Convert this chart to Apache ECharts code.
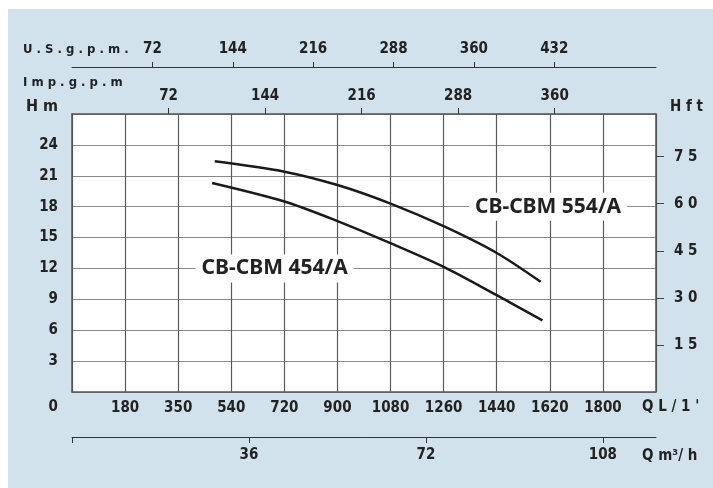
<!DOCTYPE html>
<html>
<head>
<meta charset="utf-8">
<script src="https://cdn.jsdelivr.net/npm/echarts@6/dist/echarts.min.js"></script>
<style>
body{margin:0;background:#fff;}
#panel{position:absolute;left:8px;top:9px;right:0;bottom:0;background:#d1e2ec;}
#chart1{position:absolute;left:0;top:0;width:713px;height:488px;}
</style>
</head>
<body>
<div id="panel"></div>
<div id="chart1"></div>
<script>
// pump curves, Q in l/min, H in m
var q554 = [484, 720, 900, 1080, 1260, 1440, 1589];
var h554 = [22.4, 21.4, 20.1, 18.3, 16.1, 13.5, 10.7];
var q454 = [475, 720, 900, 1080, 1260, 1440, 1595];
var h454 = [20.3, 18.5, 16.6, 14.45, 12.15, 9.4, 6.95];
var curveNames = ['CB-CBM 554/A', 'CB-CBM 454/A'];
// where the curve names sit [Q, H]
var labelAt554 = [1614, 18];
var labelAt454 = [687, 12];

// tick labels
var qTicks = ['0', '180', '350', '540', '720', '900', '1080', '1260', '1440', '1620', '1800'];
var usTicks = [72, 144, 216, 288, 360, 432];
var impTicks = [72, 144, 216, 288, 360];
var m3Ticks = [0, 36, 72, 108];
var m3Labels = [36, 72, 108];
var ftTicks = [15, 30, 45, 60, 75];

var qMax = 1980, hMax = 27;
var US_GAL = 3.785, IMP_GAL = 4.546, M3H = 16.667, FT = 3.2808;

var numFont = "'Liberation Sans Narrow', 'DejaVu Sans Condensed', sans-serif";
var nameFont = "'DejaVu Sans Condensed', 'Liberation Sans Narrow', sans-serif";
var curveFont = "'Noto Sans', 'Open Sans', sans-serif";

function pairs(q, h){
	var out = [];
	for (var i = 0; i < q.length; i++) out.push([q[i], h[i]]);
	return out;
}
function spaced(v){
	return String(v).split('').join(' ');
}

var myChart = echarts.init(document.getElementById('chart1'));

var lblStyle = {color: '#222', fontFamily: numFont, fontSize: 15, fontWeight: 'bold'};

function curveLabel(name, at){
	return {
		symbol: 'rect', symbolSize: 1,
		itemStyle: {color: 'rgba(0,0,0,0)'},
		label: {show: true, position: 'inside', formatter: name, color: '#222',
			fontFamily: curveFont, fontWeight: 'bold', fontSize: 21,
			backgroundColor: '#fff', padding: [4, 6, 3, 6]},
		data: [{coord: at}]
	};
}

var option = {
	animation: false,
	grid: {
		left: 72, right: 57, top: 114, bottom: 96,
		outerBoundsMode: 'none',
		show: true, backgroundColor: '#fff', borderWidth: 0
	},
	xAxis: [
		{ // l/min
			type: 'value', position: 'bottom', min: 0, max: qMax, interval: 180,
			axisLine: {show: true, onZero: false, lineStyle: {color: '#555', width: 1.5}},
			axisTick: {show: false},
			splitLine: {show: true, lineStyle: {color: '#5a5a5a', width: 1.2}},
			axisLabel: Object.assign({
				margin: 9, showMinLabel: false, showMaxLabel: false,
				formatter: function(v){ var i = Math.round(v / 180); return qTicks[i] || ''; }
			}, lblStyle)
		},
		{ // m3/h
			type: 'value', position: 'bottom', offset: 45, min: 0, max: qMax / M3H,
			axisLine: {show: true, onZero: false, lineStyle: {color: '#333', width: 1}},
			axisTick: {show: true, customValues: m3Ticks, length: 6, lineStyle: {color: '#333'}},
			splitLine: {show: false},
			axisLabel: Object.assign({margin: 11, customValues: m3Labels}, lblStyle)
		},
		{ // Imp.g.p.m
			type: 'value', position: 'top', offset: 0, min: 0, max: qMax / IMP_GAL,
			axisLine: {show: true, onZero: false, lineStyle: {color: '#555', width: 1.5}},
			axisTick: {show: true, customValues: impTicks, length: 6, lineStyle: {color: '#333'}},
			splitLine: {show: false},
			axisLabel: Object.assign({margin: 10, customValues: impTicks}, lblStyle)
		},
		{ // U.S.g.p.m.
			type: 'value', position: 'top', offset: 47, min: 0, max: qMax / US_GAL,
			axisLine: {show: true, onZero: false, lineStyle: {color: '#333', width: 1}},
			axisTick: {show: true, customValues: usTicks, length: 5, lineStyle: {color: '#333'}},
			splitLine: {show: false},
			axisLabel: Object.assign({margin: 10, customValues: usTicks}, lblStyle)
		}
	],
	yAxis: [
		{ // Hm
			type: 'value', position: 'left', min: 0, max: hMax, interval: 3,
			axisLine: {show: true, onZero: false, lineStyle: {color: '#555', width: 1.5}},
			axisTick: {show: false},
			splitLine: {show: true, lineStyle: {color: '#8a8a8a', width: 1.2}},
			axisLabel: Object.assign({
				margin: 14, showMaxLabel: false,
				formatter: function(v){ return v === 0 ? '{o|0}' : String(v); },
				rich: {o: {padding: [30, 0, 0, 0], color: '#222', fontFamily: numFont, fontSize: 15, fontWeight: 'bold'}}
			}, lblStyle)
		},
		{ // Hft
			type: 'value', position: 'right', min: 0, max: hMax * FT,
			axisLine: {show: true, onZero: false, lineStyle: {color: '#555', width: 1.5}},
			axisTick: {show: true, customValues: ftTicks, length: 8, lineStyle: {color: '#444'}},
			splitLine: {show: false},
			axisLabel: Object.assign({
				margin: 18, customValues: ftTicks,
				formatter: function(v){ return spaced(v); }
			}, lblStyle)
		}
	],
	graphic: [ // axis names
		{type: 'text', left: 23, top: 43, style: {text: 'U . S . g . p . m .', font: 'bold 13px ' + nameFont, fill: '#222'}},
		{type: 'text', left: 23, top: 76, style: {text: 'I m p . g . p . m', font: 'bold 13px ' + nameFont, fill: '#222'}},
		{type: 'text', left: 26, top: 99, style: {text: 'H m', font: 'bold 16px ' + nameFont, fill: '#222'}},
		{type: 'text', left: 670, top: 100, style: {text: 'H f t', font: 'bold 15px ' + nameFont, fill: '#222'}},
		{type: 'text', left: 642, top: 400, style: {text: "Q L / 1 '", font: 'bold 15px ' + nameFont, fill: '#222'}},
		{type: 'text', left: 642, top: 449, style: {text: 'Q m\u00b3/ h', font: 'bold 15px ' + nameFont, fill: '#222'}}
	],
	series: [
		{
			name: curveNames[0], type: 'line', smooth: 0.3, showSymbol: false,
			lineStyle: {color: '#1a1a1a', width: 2.5},
			data: pairs(q554, h554),
			markPoint: curveLabel(curveNames[0], labelAt554)
		},
		{
			name: curveNames[1], type: 'line', smooth: 0.3, showSymbol: false,
			lineStyle: {color: '#1a1a1a', width: 2.5},
			data: pairs(q454, h454),
			markPoint: curveLabel(curveNames[1], labelAt454)
		}
	]
};
myChart.setOption(option);
window.onresize = function () {
	myChart.resize();
};
</script>
</body>
</html>
